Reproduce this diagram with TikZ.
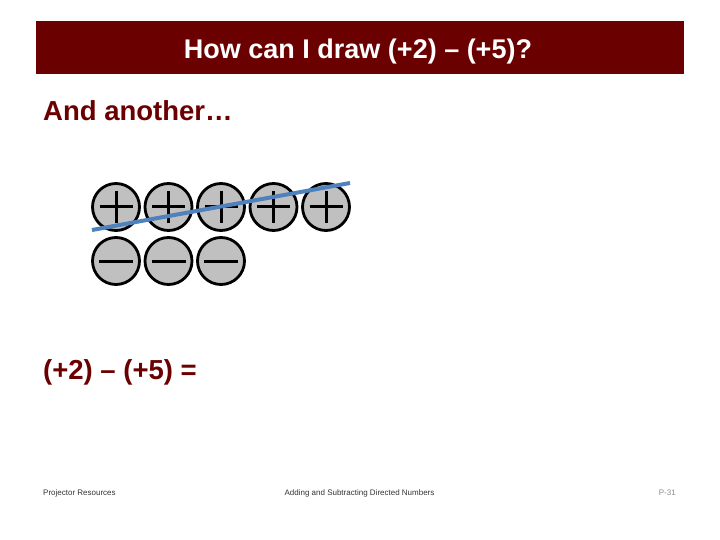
\documentclass[tikz,border=0pt]{standalone}
\usepackage{fontspec}
\setmainfont{Liberation Sans}
\definecolor{maroon}{HTML}{6B0000}
\definecolor{cross}{HTML}{4F81BD}
\definecolor{chip}{HTML}{C0C0C0}
\tikzset{
  counter/.style={circle, draw, line width=2.8pt, fill=chip,
    inner sep=0pt, minimum size=47pt},
  poschip/.style={counter, path picture={
    \draw[line width=3pt] ([xshift=-16.5pt]path picture bounding box.center)
      -- ([xshift=16.5pt]path picture bounding box.center);
    \draw[line width=3pt] ([yshift=-16pt]path picture bounding box.center)
      -- ([yshift=16pt]path picture bounding box.center);}},
  negchip/.style={counter, path picture={
    \draw[line width=3pt] ([xshift=-17pt]path picture bounding box.center)
      -- ([xshift=17pt]path picture bounding box.center);}},
  heading/.style={font=\fontsize{27.5}{30}\selectfont\bfseries, anchor=base west,
    inner sep=0pt, text=maroon},
  footer/.style={font=\fontsize{8}{9}\selectfont, anchor=base, inner sep=0pt}
}
\begin{document}
\begin{tikzpicture}[x=1pt, y=-1pt]
      \useasboundingbox (0,0) rectangle (720,540);
      \fill[maroon] (36,21) rectangle (684,74);
      \node[font=\fontsize{27}{30}\selectfont\bfseries, text=white, anchor=base,
        inner sep=0pt] (title) at (358,59) {How can I draw (+2) -- (+5)?};
      \node[heading] (another) at (43,121) {And another…};
      \draw
        (116,207) node[poschip] (p1){}
        (168.5,207) node[poschip] (p2){}
        (221,207) node[poschip] (p3){}
        (273.5,207) node[poschip] (p4){}
        (326,207) node[poschip] (p5){}
        (116,261) node[negchip] (n1){}
        (168.5,261) node[negchip] (n2){}
        (221,261) node[negchip] (n3){};
      \coordinate (cut1) at (92,230);
      \coordinate (cut2) at (350,183);
      \draw[cross, line width=4pt] (cut1) -- (cut2);
      \node[heading] (sum) at (43,379) {(+2) -- (+5) =};
      \node[footer, anchor=base west, text=black!80] (left) at (43,495) {Projector Resources};
      \node[footer, text=black!80] (mid) at (359.5,495) {Adding and Subtracting Directed Numbers};
      \node[footer, anchor=base east, text=black!45] (page) at (676,495) {P-31};
    \end{tikzpicture}
\end{document}
